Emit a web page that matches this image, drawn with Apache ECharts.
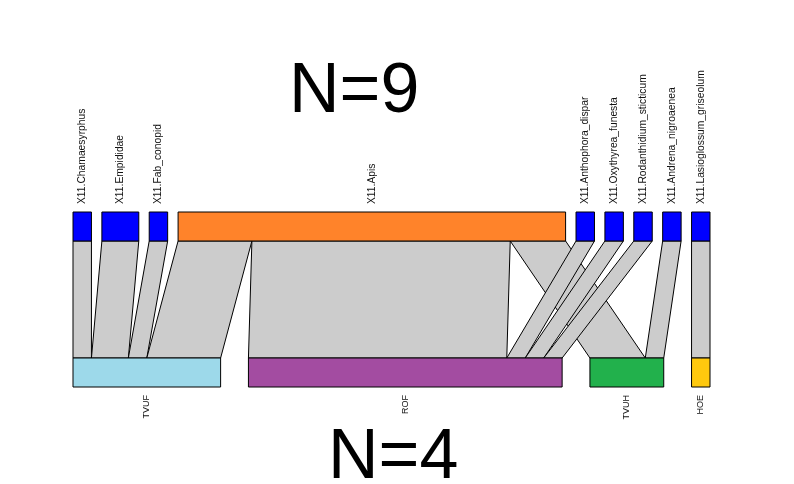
<!DOCTYPE html>
<html>
<head>
<meta charset="utf-8">
<script src="https://cdn.jsdelivr.net/npm/echarts@6/dist/echarts.min.js"></script>
<style>html,body{margin:0;padding:0;background:#fff}#c{width:794px;height:484px}</style>
</head>
<body>
<div id="c"></div>
<script>
// Higher level (top) species
var topNames = ['X11.Chamaesyrphus','X11.Empididae','X11.Fab_conopid','X11.Apis','X11.Anthophora_dispar','X11.Oxythyrea_funesta','X11.Rodanthidium_sticticum','X11.Andrena_nigroaenea','X11.Lasioglossum_griseolum'];
var topColors = ['#0000FF','#0000FF','#0000FF','#FF832A','#0000FF','#0000FF','#0000FF','#0000FF','#0000FF'];
// Lower level (bottom) categories
var bottomNames = ['TVUF','ROF','TVUH','HOE'];
var bottomColors = ['#9DD9EA','#A34CA1','#22B14C','#FFC90E'];
// Interaction counts: rows = bottom, columns = top
var webTVUF = [1,2,1,4,0,0,0,0,0];
var webROF  = [0,0,0,14,1,1,1,0,0];
var webTVUH = [0,0,0,3,0,0,0,1,0];
var webHOE  = [0,0,0,0,0,0,0,0,1];
var web = [webTVUF, webROF, webTVUH, webHOE];
var titleTop = 'N=9';
var titleBottom = 'N=4';

// layout
var topGap = 0.565;
var topTotals = topNames.map(function(_, j){ return web.reduce(function(s, r){ return s + r[j]; }, 0); });
var bottomTotals = web.map(function(r){ return r.reduce(function(a,b){return a+b;}, 0); });
var grand = topTotals.reduce(function(a,b){return a+b;},0);
var span = grand + topGap * (topNames.length - 1);
var bottomGap = (span - grand) / (bottomNames.length - 1);
var Y_TOP1 = 175, Y_TOP0 = 146, Y_BOT1 = 29, Y_BOT0 = 0;

var topStart = [], x = 0;
topTotals.forEach(function(t){ topStart.push(x); x += t + topGap; });
var bottomStart = []; x = 0;
bottomTotals.forEach(function(t){ bottomStart.push(x); x += t + bottomGap; });

// links
var links = [];
var botPos = [];
for (var i = 0; i < web.length; i++) {
  botPos.push([]);
  var o = bottomStart[i];
  for (var j = 0; j < topNames.length; j++) { botPos[i][j] = o; o += web[i][j]; }
}
for (var j = 0; j < topNames.length; j++) {
  var o2 = topStart[j];
  for (var i = 0; i < web.length; i++) {
    var v = web[i][j];
    if (v > 0) {
      links.push([o2, o2 + v, botPos[i][j], botPos[i][j] + v]);
      o2 += v;
    }
  }
}

var topData = topNames.map(function(n, j){ return [topStart[j], topStart[j] + topTotals[j], j]; });
var bottomData = bottomNames.map(function(n, i){ return [bottomStart[i], bottomStart[i] + bottomTotals[i], i]; });

var FONT = '"Liberation Sans", Arial, sans-serif';

var chart = echarts.init(document.getElementById('c'), null, {renderer: 'canvas'});
chart.setOption({
  animation: false,
  backgroundColor: '#fff',
  grid: {left: 73, width: 637, top: 212, height: 175},
  xAxis: {type: 'value', min: 0, max: span, show: false},
  yAxis: {type: 'value', min: 0, max: 175, show: false},
  graphic: [
    {type: 'text', left: 354 - 65, top: 98 - 40, style: {text: titleTop, font: '70px ' + FONT, fill: '#000'}, z: 10},
    {type: 'text', left: 393 - 65, top: 464 - 40, style: {text: titleBottom, font: '70px ' + FONT, fill: '#000'}, z: 10}
  ],
  series: [
    {
      type: 'custom', data: links, z: 1,
      renderItem: function(params, api){
        var a = api.coord([api.value(0), Y_TOP0]);
        var b = api.coord([api.value(1), Y_TOP0]);
        var c = api.coord([api.value(3), Y_BOT1]);
        var d = api.coord([api.value(2), Y_BOT1]);
        return {type: 'polygon', shape: {points: [a, b, c, d]}, style: {fill: '#CCCCCC', stroke: '#000', lineWidth: 1}};
      }
    },
    {
      type: 'custom', data: topData, z: 2,
      renderItem: function(params, api){
        var j = api.value(2);
        var p0 = api.coord([api.value(0), Y_TOP1]);
        var p1 = api.coord([api.value(1), Y_TOP0]);
        var cx = (p0[0] + p1[0]) / 2;
        return {type: 'group', children: [
          {type: 'rect', shape: {x: p0[0], y: p0[1], width: p1[0] - p0[0], height: p1[1] - p0[1]}, style: {fill: topColors[j], stroke: '#000', lineWidth: 1}},
          {type: 'text', x: cx, y: p0[1] - 8, rotation: Math.PI / 2, style: {text: topNames[j], x: 0, y: 0, align: 'left', verticalAlign: 'middle', font: '10.3px ' + FONT, fill: '#111'}}
        ]};
      }
    },
    {
      type: 'custom', data: bottomData, z: 2,
      renderItem: function(params, api){
        var i = api.value(2);
        var p0 = api.coord([api.value(0), Y_BOT1]);
        var p1 = api.coord([api.value(1), Y_BOT0]);
        var cx = (p0[0] + p1[0]) / 2;
        return {type: 'group', children: [
          {type: 'rect', shape: {x: p0[0], y: p0[1], width: p1[0] - p0[0], height: p1[1] - p0[1]}, style: {fill: bottomColors[i], stroke: '#000', lineWidth: 1}},
          {type: 'text', x: cx, y: p1[1] + 8, rotation: Math.PI / 2, style: {text: bottomNames[i], x: 0, y: 0, align: 'right', verticalAlign: 'middle', font: '9px ' + FONT, fill: '#111'}}
        ]};
      }
    }
  ]
});
</script>
</body>
</html>
